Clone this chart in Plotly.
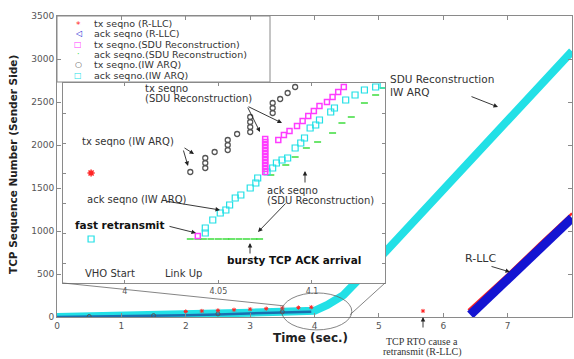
import plotly.graph_objects as go

# ---------------- data ----------------
# main axes: time (s) vs TCP sequence number
iw_ack_t = [0.0, 0.5, 1.0, 1.5, 2.0, 2.5, 3.0, 3.5, 4.0, 4.2, 4.45, 5.1, 6.0, 7.0, 8.0]
iw_ack_v = [0, 5, 10, 16, 23, 35, 50, 60, 72, 140, 255, 755, 1480, 2285, 3090]

iw_tx_t = [0.5, 1.5, 2.5, 3.5]
iw_tx_v = [6, 16, 36, 60]

rllc_ack_t = [0.0, 0.5, 1.0, 1.5, 2.0, 2.5, 3.0, 3.5, 3.95]
rllc_ack_v = [0, 4, 8, 13, 20, 30, 42, 52, 62]
rllc_ack_late_t = [6.42, 7.0, 7.5, 8.0]
rllc_ack_late_v = [25, 440, 800, 1150]

rllc_tx_t = [2.0, 2.25, 2.5, 2.75, 3.0, 3.25, 3.5, 3.75, 3.95, 5.685]
rllc_tx_v = [64, 70, 77, 84, 91, 97, 103, 109, 114, 70]
rllc_tx_late_t = [6.39, 7.0, 7.5, 8.0]
rllc_tx_late_v = [80, 495, 855, 1205]

# inset (zoom around t = 4 s)
ins_rllc_tx_t = [3.982]
ins_rllc_tx_v = [155]

ins_iw_tx_t = [4.035, 4.043, 4.043, 4.043, 4.048, 4.055, 4.055, 4.055, 4.060,
               4.067, 4.067, 4.067, 4.067, 4.079, 4.079, 4.079, 4.083, 4.087, 4.091]
ins_iw_tx_v = [155.5, 157.5, 160, 162.5, 165.5, 166.5, 169, 171.5, 174.5,
               175.5, 178, 180.5, 183, 185, 187.5, 190, 192, 195, 198]

ins_iw_ack_t = [3.982, 4.043, 4.043, 4.047, 4.051, 4.054, 4.056, 4.059, 4.062, 4.067,
                4.070, 4.071, 4.076, 4.079, 4.081, 4.084, 4.087, 4.091, 4.094, 4.096,
                4.099, 4.102, 4.104, 4.110, 4.112, 4.118, 4.123, 4.128, 4.134, 4.138]
ins_iw_ack_v = [122, 125, 127.5, 131.5, 135, 136.5, 139, 142.5, 144, 147.5,
                150, 152.5, 155.5, 157.5, 160, 161.5, 162.5, 167.5, 170, 172.5,
                177.5, 179, 181.5, 185.5, 187.5, 191.5, 194, 196.5, 198, 199]

ins_sdu_tx_t = [4.039, 4.075, 4.075, 4.075, 4.075, 4.075, 4.075, 4.075, 4.075, 4.075,
                4.075, 4.075, 4.075, 4.082, 4.085, 4.088, 4.092, 4.095, 4.098, 4.101,
                4.104, 4.108, 4.111, 4.114, 4.117]
ins_sdu_tx_v = [123.5, 155.5, 157, 158.5, 160, 161.5, 163, 164.5, 166, 167.5,
                169, 170.5, 172, 171.5, 174, 176, 178.5, 181, 183.5, 186,
                188.5, 190.5, 193, 195.5, 198]

ins_sdu_ack_t = [4.035, 4.039, 4.042, 4.046, 4.050, 4.054, 4.057, 4.061, 4.065, 4.069, 4.072,
                 4.078, 4.086, 4.091, 4.097, 4.103, 4.111, 4.116, 4.121, 4.128, 4.134, 4.138]
ins_sdu_ack_v = [122, 122, 122, 122, 122, 122, 122, 122, 122, 122, 122,
                 154, 159, 163, 167.5, 170.5, 175, 180, 183, 190, 194, 197.5]

legend_labels = ["tx seqno (R-LLC)", "ack seqno (R-LLC)", "tx seqno.(SDU Reconstruction)",
                 "ack seqno.(SDU Reconstruction)", "tx seqno.(IW ARQ)", "ack seqno.(IW ARQ)"]
legend_symbols = ["*", "◁", "□", "·", "○", "□"]

x_ticks_inset = [4, 4.05, 4.1]
x_ticktext_inset = ["4", "4.05", "4.1"]

# ---------------- layout helpers ----------------
W, H = 574, 359
ML, MR, MT, MB = 57, 2, 16, 42
PW = W - ML - MR
PH = H - MT - MB


def px(x):
    return (x - ML) / PW


def py(y):
    return (H - MB - y) / PH


X_MAIN = [0, 8]
Y_MAIN = [0, 3500]
X_INS = [3.967, 4.139]
Y_INS = [100, 200]


def m2p(t, v):
    return (t - X_MAIN[0]) / (X_MAIN[1] - X_MAIN[0]), (v - Y_MAIN[0]) / (Y_MAIN[1] - Y_MAIN[0])


CYAN = "#22e0e6"
BLUE = "#1414d2"
RED = "#ff2424"
MAG = "#ff3cff"
GREEN = "#3cdc3c"
GRAY = "#555555"
AX = "#8a8a8a"
TXT = "#333333"
FONT = "DejaVu Sans"

fig = go.Figure()

# main traces
fig.add_trace(go.Scatter(x=iw_ack_t, y=iw_ack_v, mode="lines", line=dict(color=CYAN, width=8),
                         xaxis="x", yaxis="y", showlegend=False, hoverinfo="skip"))
fig.add_trace(go.Scatter(x=rllc_ack_t, y=rllc_ack_v, mode="lines", line=dict(color="#1a6fb0", width=2.5),
                         xaxis="x", yaxis="y", showlegend=False, hoverinfo="skip"))
fig.add_trace(go.Scatter(x=iw_tx_t, y=iw_tx_v, mode="markers",
                         marker=dict(symbol="circle-open", size=4, color=GRAY, line=dict(width=1)),
                         xaxis="x", yaxis="y", showlegend=False, hoverinfo="skip"))
fig.add_trace(go.Scatter(x=rllc_tx_late_t, y=rllc_tx_late_v, mode="lines", line=dict(color=RED, width=2.5),
                         xaxis="x", yaxis="y", showlegend=False, hoverinfo="skip"))
fig.add_trace(go.Scatter(x=rllc_ack_late_t, y=rllc_ack_late_v, mode="lines", line=dict(color=BLUE, width=9),
                         xaxis="x", yaxis="y", showlegend=False, hoverinfo="skip"))
fig.add_trace(go.Scatter(x=rllc_tx_t, y=rllc_tx_v, mode="markers",
                         marker=dict(symbol="asterisk-open", size=3.5, color=RED, line=dict(width=1, color=RED)),
                         xaxis="x", yaxis="y", showlegend=False, hoverinfo="skip"))

# inset traces
fig.add_trace(go.Scatter(x=ins_sdu_ack_t, y=ins_sdu_ack_v, mode="markers",
                         marker=dict(symbol="line-ew-open", size=5, color=GREEN, line=dict(width=1.5, color=GREEN)),
                         xaxis="x2", yaxis="y2", showlegend=False, hoverinfo="skip"))
fig.add_trace(go.Scatter(x=ins_iw_ack_t, y=ins_iw_ack_v, mode="markers",
                         marker=dict(symbol="square-open", size=6, color=CYAN, line=dict(width=1.2, color=CYAN)),
                         xaxis="x2", yaxis="y2", showlegend=False, hoverinfo="skip"))
fig.add_trace(go.Scatter(x=ins_sdu_tx_t, y=ins_sdu_tx_v, mode="markers",
                         marker=dict(symbol="square-open", size=5, color=MAG, line=dict(width=1.5, color=MAG)),
                         xaxis="x2", yaxis="y2", showlegend=False, hoverinfo="skip"))
fig.add_trace(go.Scatter(x=ins_iw_tx_t, y=ins_iw_tx_v, mode="markers",
                         marker=dict(symbol="circle-open", size=5, color=GRAY, line=dict(width=1.3, color=GRAY)),
                         xaxis="x2", yaxis="y2", showlegend=False, hoverinfo="skip"))
fig.add_trace(go.Scatter(x=ins_rllc_tx_t, y=ins_rllc_tx_v, mode="markers",
                         marker=dict(symbol="asterisk-open", size=6, color=RED, line=dict(width=1.5, color=RED)),
                         xaxis="x2", yaxis="y2", showlegend=False, hoverinfo="skip"))

shapes = []
# inset white background (drawn in inset subplot, above main traces)
shapes.append(dict(type="rect", xref="x2", yref="y2", x0=X_INS[0], x1=X_INS[1], y0=Y_INS[0], y1=Y_INS[1],
                   fillcolor="white", line=dict(width=0), layer="below"))
# legend box
shapes.append(dict(type="rect", xref="paper", yref="paper", x0=px(57), x1=px(270), y0=py(82), y1=py(16),
                   fillcolor="white", line=dict(color=AX, width=1), layer="below"))
# ellipse around zoomed region
ex0, ey0 = m2p(3.49, -150)
ex1, ey1 = m2p(4.58, 280)
shapes.append(dict(type="circle", xref="paper", yref="paper", x0=ex0, x1=ex1, y0=ey0, y1=ey1,
                   line=dict(color="#666", width=0.8)))
# connectors
dom_x = [px(63), px(385)]
dom_y = [py(283), py(83)]
lx, ly = m2p(3.52, 130)
rx, ry = m2p(4.55, 25)
shapes.append(dict(type="line", xref="paper", yref="paper", x0=dom_x[0], y0=dom_y[0], x1=lx, y1=ly,
                   line=dict(color="#666", width=0.8)))
shapes.append(dict(type="line", xref="paper", yref="paper", x0=dom_x[1], y0=dom_y[0], x1=rx, y1=ry,
                   line=dict(color="#666", width=0.8)))

ann = []


def label(text, x, y, size=10, color=TXT, anchor="left", family=FONT):
    ann.append(dict(text=text, xref="paper", yref="paper", x=px(x), y=py(y), xanchor=anchor,
                    yanchor="middle", showarrow=False, font=dict(family=family, size=size, color=color)))


def arrow(head, tail):
    ann.append(dict(text="", xref="paper", yref="paper", x=px(head[0]), y=py(head[1]),
                    ax=tail[0] - head[0], ay=tail[1] - head[1], showarrow=True, arrowhead=2,
                    arrowsize=1, arrowwidth=0.9, arrowcolor="#222", standoff=0, startstandoff=0))


# legend entries
leg_colors = [RED, BLUE, MAG, GREEN, GRAY, CYAN]
leg_y = [23, 33.5, 44, 54.5, 65, 75.5]
for s, c, lab, yy in zip(legend_symbols, leg_colors, legend_labels, leg_y):
    label(s, 78, yy + (1.5 if s == "*" else 0), size=(9 if s == "*" else 8), color=c, anchor="center")
    label(lab, 92, yy, size=9.5, color=TXT)

# inset texts
label("tx seqno", 143, 88)
label("(SDU Reconstruction)", 143, 98)
label("tx seqno (IW ARQ)", 80, 141)
label("ack seqno (IW ARQ)", 85, 199)
label("<b>fast retransmit</b>", 73, 225, size=10.5, color="#111")
label("ack seqno", 265, 190)
label("(SDU Reconstruction)", 265, 200)
label("<b>bursty TCP ACK arrival</b>", 225, 260, size=10.5, color="#111")
label("VHO Start", 83, 273)
label("Link Up", 163, 273)
# main texts
label("SDU Reconstruction", 388, 79, size=10.5)
label("IW ARQ", 388, 92, size=10.5)
label("R-LLC", 463, 258, size=11)
label("TCP RTO cause a", 422, 341, size=10, family="Liberation Serif", anchor="center")
label("retransmit (R-LLC)", 422, 352, size=10, family="Liberation Serif", anchor="center")
label("<b>Time (sec.)</b>", 310, 338, size=12, color="#222", anchor="center")
ann.append(dict(text="<b>TCP Sequence Number (Sender Side)</b>", xref="paper", yref="paper",
                x=px(13), y=py(165), textangle=-90, showarrow=False, xanchor="center", yanchor="middle",
                font=dict(family=FONT, size=10.5, color="#222")))

# arrows
arrow((260, 132), (247, 106))
arrow((282, 123), (247, 106))
arrow((194, 154), (183, 147))
arrow((188, 166), (183, 149))
arrow((220, 210), (165, 201))
arrow((196, 233), (168, 226))
arrow((305, 171), (305, 184))
arrow((258, 232), (287, 202))
arrow((250, 243), (250, 255))
arrow((498, 107), (470, 96))
arrow((510, 272), (490, 266))
arrow((423, 317), (423, 329))

tickfont = dict(family=FONT, size=9, color="#555")
common = dict(showgrid=False, zeroline=False, showline=True, linecolor=AX, linewidth=1,
              ticks="inside", tickcolor=AX, mirror="ticks")

fig.update_layout(
    width=W, height=H, margin=dict(l=ML, r=MR, t=MT, b=MB),
    paper_bgcolor="white", plot_bgcolor="white", showlegend=False,
    xaxis=dict(domain=[0, 1], range=X_MAIN, dtick=1, ticklen=4, tickfont=tickfont, anchor="y", **common),
    yaxis=dict(domain=[0, 1], range=Y_MAIN, dtick=500, ticklen=4, tickfont=tickfont, anchor="x", **common),
    xaxis2=dict(domain=dom_x, range=X_INS, anchor="y2", tickvals=x_ticks_inset, ticktext=x_ticktext_inset,
                ticklen=3, tickfont=dict(family=FONT, size=8, color="#555"), **common),
    yaxis2=dict(domain=dom_y, range=Y_INS, anchor="x2", tick0=110, dtick=15, ticklen=3,
                showticklabels=False, **common),
    shapes=shapes, annotations=ann,
)

fig.write_html("out.html")
